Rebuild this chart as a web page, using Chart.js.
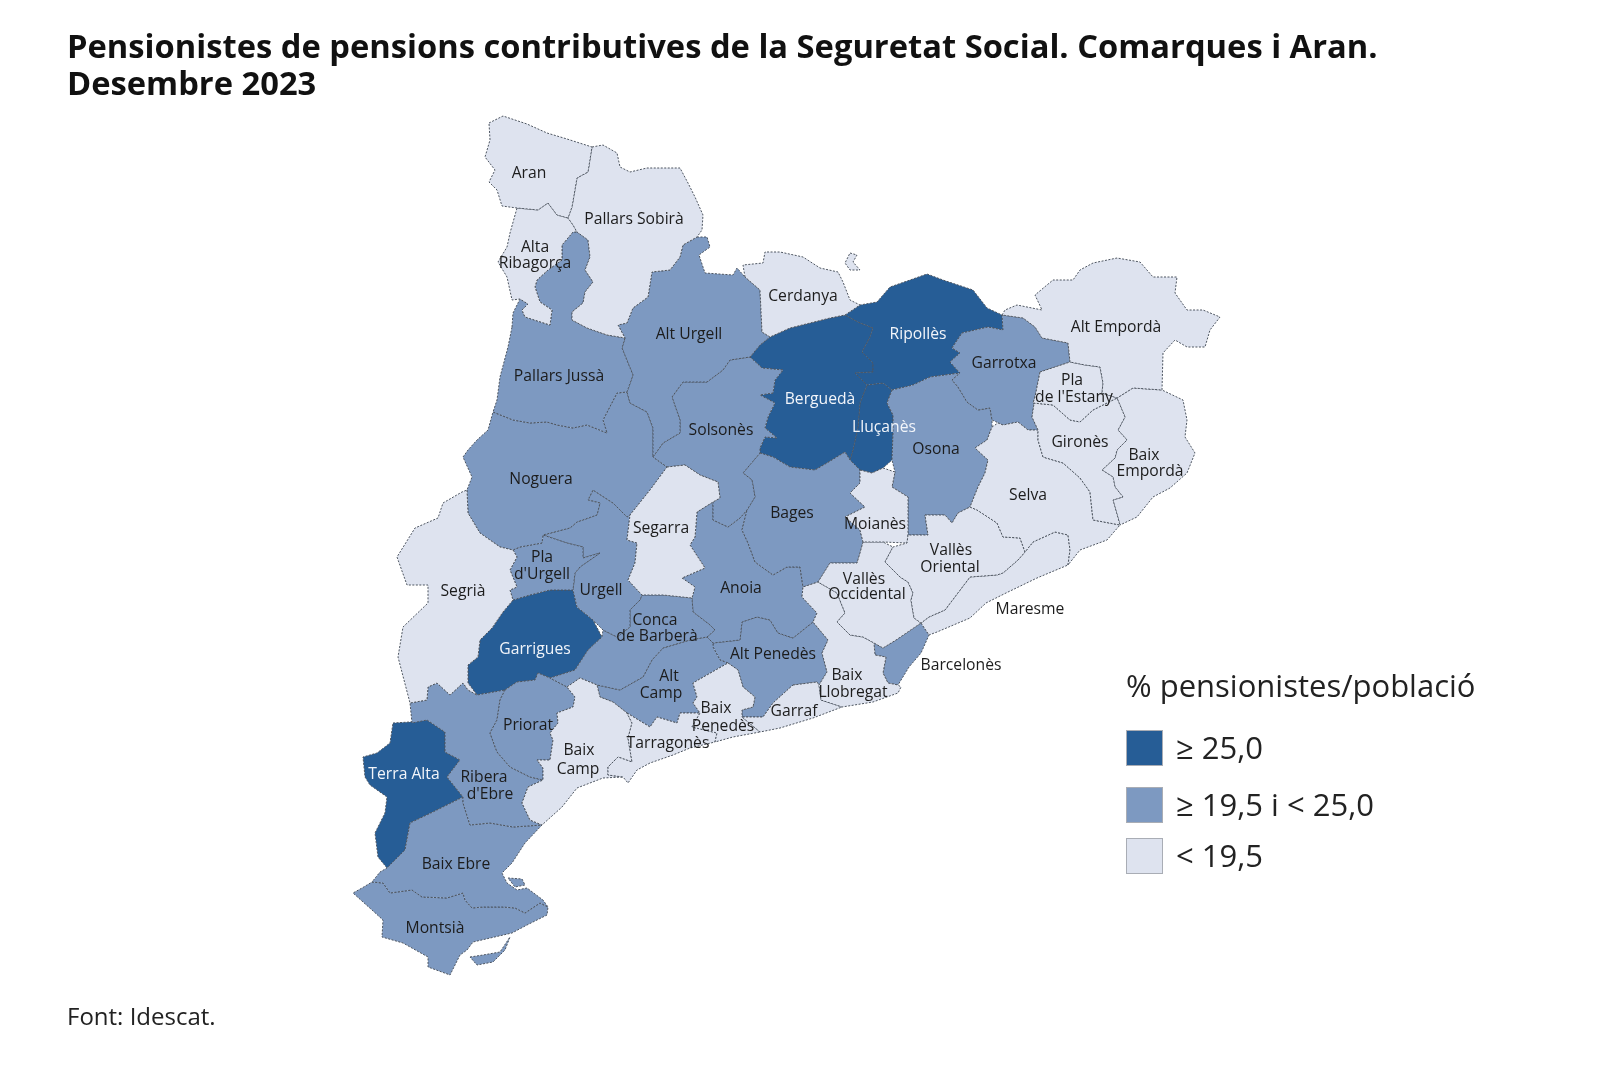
<!DOCTYPE html>
<html lang="ca">
<head>
<meta charset="utf-8">
<title>Pensionistes de pensions contributives</title>
<script src="https://cdn.jsdelivr.net/npm/chart.js@4"></script>
<style>
  html, body { margin: 0; background: #fff; font-family: "Open Sans", sans-serif; color: #111; }
  #page { position: relative; width: 1612px; height: 1068px; overflow: hidden; }
  #map { position: absolute; left: 0; top: 0; }
  h1 { position: absolute; left: 67px; top: 27px; margin: 0; font-size: 32.7px; line-height: 37px; font-weight: 700; white-space: nowrap; }
  #font { position: absolute; left: 67px; top: 1001px; font-size: 24px; line-height: 30px; color: #222; }
  #legend { position: absolute; left: 1126px; top: 0; }
  #legend .head { position: absolute; top: 664px; left: 0; font-size: 31px; line-height: 42px; white-space: nowrap; color: #222; }
  #legend .item { position: absolute; left: 0; white-space: nowrap; font-size: 31px; line-height: 37px; color: #222; }
  #legend .box { position: absolute; left: 0; top: 0; width: 37px; height: 36px; border: 1px solid #a9adb5; box-sizing: border-box; }
  #legend .lab { position: absolute; left: 50px; top: -1px; }
</style>
</head>
<body>
<div id="page">
  <canvas id="map" width="1612" height="1068"></canvas>
  <h1>Pensionistes de pensions contributives de la Seguretat Social. Comarques i Aran.<br>Desembre 2023</h1>
  <div id="legend"></div>
  <div id="font">Font: Idescat.</div>
</div>
<script>
/* ── Map outlines (map units) ─────────────────────────────── */
const aran = [[489,123],[503,116],[527,124],[547,133],[567,139],[592,147],[588,172],[577,178],[572,207],[568,218],[557,215],[548,203],[538,210],[517,208],[502,206],[497,190],[489,182],[495,170],[485,157],[490,140]];
const pallarsSobira = [[592,147],[603,145],[617,153],[620,167],[630,172],[647,168],[680,168],[688,183],[695,197],[703,215],[702,230],[697,237],[683,245],[680,257],[670,270],[652,272],[648,297],[633,308],[627,323],[618,325],[625,338],[607,335],[587,328],[572,320],[572,312],[583,303],[585,292],[593,282],[585,270],[590,257],[588,240],[577,232],[573,225],[568,218],[572,207],[577,178],[588,172]];
const altaRibagorca = [[517,208],[538,210],[548,203],[557,215],[568,218],[573,225],[577,232],[573,232],[562,245],[562,260],[548,270],[537,280],[535,287],[540,302],[552,310],[550,325],[525,317],[522,310],[528,304],[520,299],[512,300],[507,277],[498,262],[507,247],[510,233]];
const pallarsJussa = [[512,327],[513,313],[520,299],[528,304],[522,310],[525,317],[550,325],[552,310],[540,302],[535,287],[537,280],[548,270],[562,260],[562,245],[573,232],[577,232],[588,240],[590,257],[585,270],[593,282],[585,292],[583,303],[572,312],[572,320],[587,328],[607,335],[625,338],[622,348],[628,363],[633,375],[627,392],[617,393],[603,420],[607,433],[587,425],[573,428],[557,425],[547,422],[530,423],[513,420],[493,412],[497,400],[500,377],[508,347]];
const altUrgell = [[697,237],[707,237],[710,247],[699,255],[705,273],[733,275],[737,268],[745,277],[760,290],[762,332],[770,337],[760,345],[750,357],[730,360],[723,370],[707,382],[683,382],[672,397],[680,420],[680,433],[663,443],[653,457],[653,428],[647,412],[630,403],[627,392],[633,375],[628,363],[622,348],[625,338],[618,325],[627,323],[633,308],[648,297],[652,272],[670,270],[680,257],[683,245]];
const cerdanya = [[745,277],[743,265],[763,263],[765,252],[780,252],[803,257],[820,268],[838,272],[843,282],[850,300],[860,305],[845,315],[830,318],[790,328],[770,337],[762,332],[760,290]];
const llivia = [[850,253],[857,255],[853,262],[860,270],[850,270],[845,263]];
const ripolles = [[845,315],[860,305],[877,302],[890,287],[910,280],[927,274],[943,280],[973,290],[987,308],[1002,315],[1003,330],[988,327],[962,333],[952,348],[960,353],[950,362],[960,373],[930,377],[913,385],[892,390],[883,383],[867,385],[855,373],[873,372],[873,363],[862,352],[870,337],[873,328],[858,322]];
const bergueda = [[770,337],[790,328],[830,318],[845,315],[858,322],[873,328],[870,337],[862,352],[873,363],[873,372],[855,373],[867,385],[860,403],[858,427],[853,450],[850,460],[845,452],[827,463],[815,470],[790,467],[773,457],[760,453],[760,448],[765,437],[777,438],[765,428],[768,417],[775,403],[760,395],[773,393],[775,380],[783,370],[762,368],[750,357],[760,345]];
const llucanes = [[867,385],[883,383],[892,390],[887,403],[893,415],[893,433],[892,460],[883,468],[872,473],[860,470],[850,460],[853,450],[858,427],[860,403]];
const osona = [[892,390],[913,385],[930,377],[960,373],[952,380],[958,387],[967,402],[978,410],[990,408],[992,420],[992,427],[987,440],[975,448],[988,460],[985,473],[978,487],[970,507],[958,513],[952,523],[945,515],[925,515],[928,535],[908,535],[908,497],[892,487],[895,472],[892,460],[893,433],[893,415],[887,403]];
const garrotxa = [[1002,315],[1023,318],[1035,327],[1042,338],[1068,343],[1070,362],[1040,372],[1035,397],[1032,417],[1038,430],[1028,430],[1018,422],[1003,425],[992,420],[990,408],[978,410],[967,402],[958,387],[952,380],[960,373],[950,362],[960,353],[952,348],[962,333],[988,327],[1003,330]];
const altEmporda = [[1002,315],[1005,310],[1017,305],[1042,310],[1035,295],[1053,280],[1073,280],[1080,270],[1093,263],[1117,258],[1140,262],[1153,277],[1177,277],[1175,293],[1187,310],[1203,310],[1220,317],[1210,330],[1205,347],[1187,347],[1175,340],[1163,353],[1162,390],[1133,388],[1117,398],[1102,393],[1103,383],[1100,367],[1085,365],[1070,362],[1068,343],[1042,338],[1035,327],[1023,318]];
const plaEstany = [[1040,372],[1070,362],[1085,365],[1100,367],[1103,383],[1102,393],[1117,398],[1093,410],[1080,422],[1070,420],[1053,405],[1033,403],[1035,397]];
const girones = [[1035,397],[1033,403],[1053,405],[1070,420],[1080,422],[1093,410],[1117,398],[1125,417],[1118,430],[1127,440],[1117,450],[1115,458],[1102,470],[1113,477],[1115,487],[1123,497],[1113,500],[1120,525],[1093,520],[1090,492],[1080,478],[1063,463],[1043,457],[1038,440],[1038,430],[1032,417]];
const baixEmporda = [[1117,398],[1133,388],[1162,390],[1183,400],[1187,420],[1185,437],[1195,453],[1187,473],[1170,488],[1153,497],[1137,517],[1120,525],[1113,500],[1123,497],[1115,487],[1113,477],[1102,470],[1115,458],[1117,450],[1127,440],[1118,430],[1125,417]];
const selva = [[992,427],[998,423],[1003,425],[1018,422],[1028,430],[1038,430],[1038,440],[1043,457],[1063,463],[1080,478],[1090,492],[1093,520],[1120,525],[1107,540],[1080,550],[1068,565],[1070,550],[1068,535],[1055,532],[1033,542],[1025,552],[1020,538],[1003,537],[997,523],[977,510],[970,507],[978,487],[985,473],[988,460],[975,448],[987,440]];
const vallesOriental = [[925,515],[945,515],[952,523],[958,513],[970,507],[977,510],[997,523],[1003,537],[1020,538],[1025,552],[1018,560],[1003,573],[997,575],[970,577],[945,610],[929,617],[921,623],[914,618],[911,600],[913,593],[908,582],[900,577],[885,562],[893,547],[907,543],[908,535],[928,535]];
const maresme = [[1068,565],[1070,550],[1068,535],[1055,532],[1033,542],[1025,552],[1018,560],[1003,573],[997,575],[970,577],[945,610],[929,617],[921,623],[929,635],[937,632],[970,618],[986,603],[1006,593],[1037,578]];
const moianes = [[860,470],[872,473],[883,468],[895,472],[892,487],[908,497],[908,535],[907,543],[883,542],[863,542],[860,530],[845,517],[865,507],[850,493],[860,483]];
const bages = [[760,453],[773,457],[790,467],[815,470],[827,463],[845,452],[850,460],[860,470],[860,483],[850,493],[865,507],[845,517],[860,530],[863,542],[860,553],[857,563],[830,563],[818,582],[803,587],[800,567],[787,567],[773,575],[755,562],[748,543],[742,530],[747,510],[755,497],[752,480],[743,473]];
const bagesEnclave = [[835,518],[845,517],[848,530],[833,529]];
const solsones = [[750,357],[762,368],[783,370],[775,380],[773,393],[760,395],[775,403],[768,417],[765,428],[777,438],[765,437],[760,448],[760,453],[743,473],[752,480],[755,497],[747,510],[740,518],[728,527],[713,520],[713,502],[720,498],[718,482],[700,475],[685,465],[667,467],[653,457],[663,443],[680,433],[680,420],[672,397],[683,382],[707,382],[723,370],[730,360]];
const noguera = [[493,412],[513,420],[530,423],[547,422],[557,425],[573,428],[587,425],[607,433],[603,420],[617,393],[627,392],[630,403],[647,412],[653,428],[653,457],[667,467],[650,490],[630,515],[627,517],[613,503],[593,490],[588,500],[600,503],[597,515],[577,522],[570,528],[543,535],[542,543],[520,547],[513,550],[500,547],[480,533],[468,513],[467,490],[472,477],[463,457],[468,450],[477,440],[488,430]];
const segarra = [[667,467],[685,465],[700,475],[718,482],[720,498],[713,502],[697,512],[695,537],[690,545],[705,568],[682,578],[695,587],[692,598],[663,595],[642,595],[628,580],[635,563],[637,543],[627,540],[630,515],[650,490]];
const plaUrgell = [[513,550],[520,547],[542,543],[543,535],[567,543],[583,547],[583,558],[600,553],[580,567],[575,573],[573,590],[550,590],[530,595],[513,600],[510,590],[517,587],[510,570],[517,557]];
const segriaEnclave = [[524,580],[530,578],[530,586],[524,590]];
const urgell = [[543,535],[570,528],[577,522],[597,515],[600,503],[588,500],[593,490],[613,503],[627,517],[630,515],[627,540],[637,543],[635,563],[628,580],[642,595],[640,600],[630,610],[630,627],[617,637],[603,630],[593,620],[577,607],[573,590],[575,573],[580,567],[600,553],[583,558],[583,547],[567,543]];
const garrigues = [[513,600],[530,595],[550,590],[573,590],[577,607],[593,620],[602,637],[588,650],[575,670],[550,678],[538,673],[535,680],[517,682],[505,690],[477,695],[468,683],[468,665],[478,657],[480,640],[492,628],[503,612]];
const segria = [[467,490],[468,513],[480,533],[500,547],[513,550],[517,557],[510,570],[517,587],[510,590],[513,600],[503,612],[492,628],[480,640],[478,657],[468,665],[468,683],[477,695],[468,690],[463,683],[450,695],[437,683],[428,687],[427,700],[410,703],[398,657],[403,627],[428,603],[428,585],[407,585],[397,557],[415,528],[438,518],[443,503],[462,492]];
const riberaEbre = [[412,723],[410,703],[427,700],[428,687],[437,683],[450,695],[463,683],[468,690],[477,695],[505,690],[500,700],[497,720],[490,733],[497,752],[510,767],[530,777],[543,780],[528,787],[522,803],[530,820],[542,825],[513,827],[490,823],[470,825],[463,803],[463,797],[447,777],[460,760],[445,752],[445,732],[427,720]];
const terraAlta = [[393,723],[410,722],[427,720],[445,732],[445,752],[460,760],[447,777],[463,797],[433,812],[410,823],[405,850],[387,868],[378,857],[375,833],[385,813],[387,797],[370,785],[365,777],[363,757],[377,753],[390,743]];
const baixEbre = [[463,797],[463,803],[470,825],[490,823],[513,827],[542,825],[525,843],[512,863],[502,873],[507,883],[517,890],[527,888],[543,900],[548,907],[540,903],[525,913],[515,908],[503,907],[483,907],[472,908],[465,900],[463,893],[447,898],[422,897],[412,890],[390,893],[383,883],[372,882],[380,872],[387,868],[405,850],[410,823],[433,812]];
const fangar = [[508,878],[522,879],[525,885],[515,887]];
const montsia = [[372,882],[383,883],[390,893],[412,890],[422,897],[447,898],[463,893],[465,900],[472,908],[483,907],[503,907],[515,908],[525,913],[540,903],[548,907],[547,915],[527,925],[512,933],[473,942],[467,950],[460,955],[450,975],[428,967],[428,957],[403,943],[382,937],[383,920],[372,910],[353,893],[362,888]];
const alfacs = [[470,957],[483,955],[500,952],[510,937],[505,950],[493,962],[477,965]];
const priorat = [[505,690],[517,682],[535,680],[538,673],[550,678],[567,687],[575,697],[573,707],[557,713],[558,723],[550,733],[553,740],[550,760],[537,760],[543,768],[543,780],[530,777],[510,767],[497,752],[490,733],[497,720],[500,700]];
const concaBarbera = [[642,595],[663,595],[692,598],[693,612],[710,625],[715,630],[707,637],[690,640],[663,648],[652,660],[643,677],[620,690],[597,685],[580,678],[567,687],[550,678],[575,670],[588,650],[602,637],[603,630],[617,637],[630,627],[630,610],[640,600]];
const altCamp = [[597,685],[620,690],[643,677],[652,660],[663,648],[690,640],[707,637],[713,643],[713,647],[720,660],[728,663],[693,683],[697,697],[693,703],[700,713],[680,713],[677,723],[657,717],[650,727],[627,713],[613,702],[600,697]];
const altPenedes = [[713,643],[740,640],[742,622],[757,617],[770,620],[778,633],[793,638],[813,622],[828,640],[822,653],[827,672],[819,685],[817,682],[793,685],[773,703],[763,717],[742,717],[742,710],[753,707],[755,697],[743,687],[738,670],[728,663],[720,660],[713,647]];
const anoia = [[697,512],[713,502],[713,520],[728,527],[740,518],[747,510],[742,530],[748,543],[755,562],[773,575],[787,567],[800,567],[803,587],[802,597],[817,613],[813,622],[793,638],[778,633],[770,620],[757,617],[742,622],[740,640],[713,643],[707,637],[715,630],[710,625],[693,612],[692,598],[695,587],[682,578],[705,568],[690,545],[695,537]];
const vallesOccidental = [[863,542],[883,542],[893,547],[885,562],[900,577],[908,582],[913,593],[911,600],[914,618],[921,623],[896,640],[883,648],[874,643],[863,637],[850,635],[837,622],[845,613],[837,593],[818,582],[830,563],[857,563],[860,553]];
const baixLlobregat = [[818,582],[837,593],[845,613],[837,622],[850,635],[863,637],[874,643],[875,655],[886,657],[883,673],[888,683],[898,685],[901,687],[898,693],[873,702],[842,707],[821,700],[819,685],[827,672],[822,653],[828,640],[813,622],[817,613],[802,597],[803,587]];
const barcelones = [[921,623],[929,635],[921,653],[909,667],[898,685],[888,683],[883,673],[886,657],[875,655],[874,643],[883,648],[896,640]];
const garraf = [[793,685],[817,682],[819,685],[821,700],[842,707],[813,718],[780,728],[760,732],[742,717],[763,717],[773,703]];
const baixPenedes = [[728,663],[738,670],[743,687],[755,697],[753,707],[742,710],[742,717],[760,732],[733,737],[715,742],[717,733],[692,727],[700,713],[693,703],[697,697],[693,683]];
const tarragones = [[627,713],[650,727],[657,717],[677,723],[680,713],[700,713],[692,727],[717,733],[715,742],[690,748],[673,755],[650,763],[637,770],[628,783],[623,777],[608,775],[608,767],[618,757],[632,762],[628,738],[632,723]];
const baixCamp = [[567,687],[580,678],[597,685],[600,697],[613,702],[627,713],[632,723],[628,738],[632,762],[618,757],[608,767],[608,775],[623,777],[603,778],[577,788],[562,807],[542,825],[530,820],[522,803],[528,787],[543,780],[543,768],[537,760],[550,760],[553,740],[550,733],[558,723],[557,713],[573,707],[575,697]];

/* ── Comarques: name, class (0 high, 1 mid, 2 low), outline ── */
const comarques = [
  ['Aran', 2, aran], ['Pallars Sobirà', 2, pallarsSobira], ['Alta Ribagorça', 2, altaRibagorca],
  ['Cerdanya', 2, cerdanya], ['Cerdanya', 2, llivia], ['Alt Empordà', 2, altEmporda],
  ['Pla de l\'Estany', 2, plaEstany], ['Gironès', 2, girones], ['Baix Empordà', 2, baixEmporda],
  ['Selva', 2, selva], ['Vallès Oriental', 2, vallesOriental], ['Maresme', 2, maresme],
  ['Moianès', 2, moianes], ['Vallès Occidental', 2, vallesOccidental], ['Baix Llobregat', 2, baixLlobregat],
  ['Garraf', 2, garraf], ['Baix Penedès', 2, baixPenedes], ['Tarragonès', 2, tarragones],
  ['Baix Camp', 2, baixCamp], ['Segarra', 2, segarra], ['Segrià', 2, segria],
  ['Pallars Jussà', 1, pallarsJussa], ['Alt Urgell', 1, altUrgell], ['Solsonès', 1, solsones],
  ['Noguera', 1, noguera], ['Garrotxa', 1, garrotxa], ['Osona', 1, osona], ['Bages', 1, bages],
  ['Moianès', 2, bagesEnclave], ['Pla d\'Urgell', 1, plaUrgell], ['Segrià', 2, segriaEnclave],
  ['Urgell', 1, urgell], ['Conca de Barberà', 1, concaBarbera], ['Anoia', 1, anoia],
  ['Alt Camp', 1, altCamp], ['Alt Penedès', 1, altPenedes], ['Priorat', 1, priorat],
  ['Ribera d\'Ebre', 1, riberaEbre], ['Baix Ebre', 1, baixEbre], ['Baix Ebre', 1, fangar],
  ['Montsià', 1, montsia], ['Montsià', 1, alfacs], ['Barcelonès', 1, barcelones],
  ['Ripollès', 0, ripolles], ['Berguedà', 0, bergueda], ['Lluçanès', 0, llucanes],
  ['Garrigues', 0, garrigues], ['Terra Alta', 0, terraAlta]
];

/* ── Map labels, one row per line of text ─────────────────── */
const labelTexts = ['Aran','Pallars Sobirà','Alta','Ribagorça','Cerdanya','Alt Urgell','Ripollès','Alt Empordà','Garrotxa','Pallars Jussà','Pla','de l\'Estany','Berguedà','Solsonès','Lluçanès','Osona','Gironès','Baix','Empordà','Noguera','Selva','Bages','Moianès','Segarra','Vallès','Oriental','Pla','d\'Urgell','Vallès','Occidental','Urgell','Anoia','Segrià','Maresme','Conca','de Barberà','Garrigues','Alt Penedès','Barcelonès','Baix','Llobregat','Alt','Camp','Baix','Penedès','Garraf','Priorat','Tarragonès','Baix','Camp','Terra Alta','Ribera','d\'Ebre','Baix Ebre','Montsià'];
const labelX = [529,634,535,535,803,689,918,1116,1004,559,1072,1074,820,721,884,936,1080,1144,1150,541,1028,792,875,661,951,950,542,542,864,867,601,741,463,1030,655,657,535,773,961,847,853,669,661,716,723,794,528,668,579,578,404,484,490,456,435];
const labelY = [174,220,248,264,297,335,335,328,364,377,381,398,400,431,428,450,443,456,472,480,496,514,525,529,551,568,558,575,580,595,591,589,592,610,621,637,650,655,666,676,693,677,694,709,727,712,726,744,751,770,775,778,795,865,929];
const whiteLabels = ['Ripollès','Berguedà','Lluçanès','Garrigues','Terra Alta'];

/* ── Legend ────────────────────────────────────────────────── */
const legendTitle = '% pensionistes/població';
const classLabels = ['≥ 25,0', '≥ 19,5 i < 25,0', '< 19,5'];
const classColors = ['#265d96', '#7d99c1', '#dee3ef'];
const legendTops = [730, 787, 838];

const mapLabels = {
  id: 'mapLabels',
  afterDatasetsDraw(chart) {
    const { ctx, scales: { x, y } } = chart;
    ctx.save();
    ctx.font = '15.7px "Open Sans"';
    ctx.textAlign = 'center';
    ctx.textBaseline = 'middle';
    labelTexts.forEach((t, i) => {
      ctx.fillStyle = whiteLabels.includes(t) ? '#f2f5fa' : '#1c1c1c';
      ctx.fillText(t, x.getPixelForValue(labelX[i]), y.getPixelForValue(labelY[i]));
    });
    ctx.restore();
  }
};

new Chart(document.getElementById('map'), {
  type: 'scatter',
  plugins: [mapLabels],
  data: {
    datasets: comarques.map(([name, cls, shape]) => ({
      label: name,
      data: [...shape, shape[0]].map(([x, y]) => ({ x, y })),
      showLine: true,
      fill: 'shape',
      tension: 0,
      pointRadius: 0,
      backgroundColor: classColors[cls],
      borderColor: '#4d5560',
      borderWidth: 1,
      borderDash: [2, 1.5]
    }))
  },
  options: {
    responsive: false,
    animation: false,
    layout: { padding: 0 },
    plugins: { legend: { display: false }, tooltip: { enabled: false } },
    scales: {
      x: { display: false, min: 0, max: 1612 },
      y: { display: false, min: 0, max: 1068, reverse: true }
    }
  }
});

/* html legend, chart.js legend can't be placed freely */
const legendEl = document.getElementById('legend');
legendEl.innerHTML = `<div class="head">${legendTitle}</div>` + classLabels.map((l, i) =>
  `<div class="item" style="top:${legendTops[i]}px"><span class="box" style="background:${classColors[i]}"></span><span class="lab">${l.replace('<', '&lt;')}</span></div>`
).join('');
</script>
</body>
</html>
